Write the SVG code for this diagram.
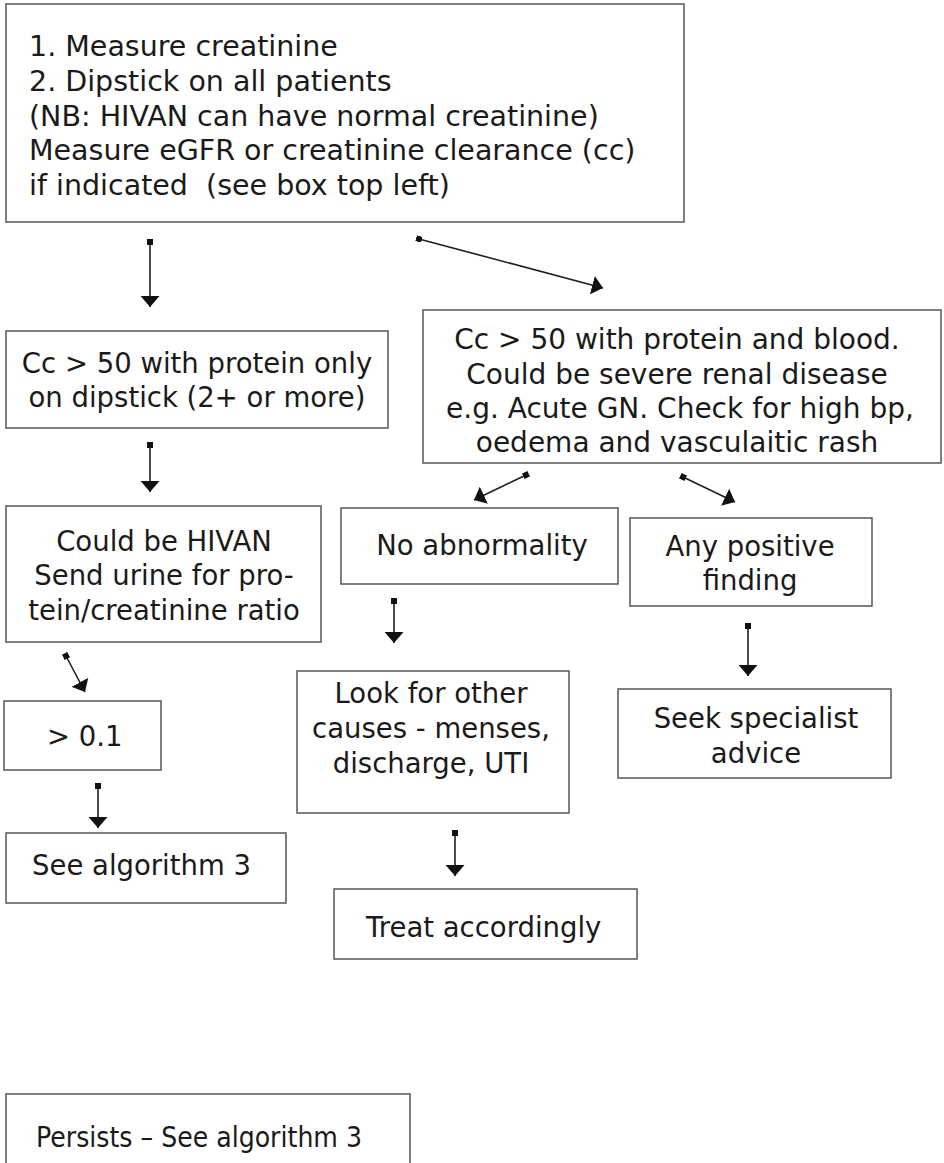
<svg xmlns="http://www.w3.org/2000/svg" width="944" height="1163" viewBox="0 0 944 1163">
<style>
.box { fill: #ffffff; stroke: #555555; stroke-width: 1.5; }
.t { font-family: "DejaVu Sans", "Liberation Sans", sans-serif; font-size: 27.5px; fill: #1a1a1a; }
.big { font-size: 28.5px; }
.mid { font-size: 28px; }
.c { text-anchor: middle; }
.conn line { stroke: #1e1e1e; stroke-width: 1.6; marker-start: url(#sq); marker-end: url(#ah); }
</style>
<defs>
<marker id="ah" viewBox="0 0 11 19" refX="11" refY="9.5" markerWidth="11" markerHeight="19" orient="auto" markerUnits="userSpaceOnUse">
<path d="M0,0 L11,9.5 L0,19 z" fill="#111111"/>
</marker>
<marker id="sq" viewBox="0 0 6 6" refX="3" refY="3" markerWidth="6" markerHeight="6" orient="auto" markerUnits="userSpaceOnUse">
<rect width="6" height="6" fill="#111111"/>
</marker>
</defs>
<rect width="944" height="1163" fill="#ffffff"/>

<g id="n-start">
<rect class="box" x="6" y="4" width="678" height="218"/>
<text class="t big" x="29" y="56">1. Measure creatinine</text>
<text class="t big" x="29" y="91">2. Dipstick on all patients</text>
<text class="t big" x="29" y="126">(NB: HIVAN can have normal creatinine)</text>
<text class="t big" x="29" y="160">Measure eGFR or creatinine clearance (cc)</text>
<text class="t big" x="29" y="195" xml:space="preserve">if indicated  (see box top left)</text>
</g>

<g id="n-protein-only">
<rect class="box" x="6" y="331" width="382" height="97"/>
<text class="t c" x="197" y="373">Cc &gt; 50 with protein only</text>
<text class="t c" x="197" y="407">on dipstick (2+ or more)</text>
</g>

<g id="n-protein-blood">
<rect class="box" x="423" y="310" width="518" height="153"/>
<text class="t mid c" x="677" y="349">Cc &gt; 50 with protein and blood.</text>
<text class="t mid c" x="677" y="383.5">Could be severe renal disease</text>
<text class="t mid c" x="680" y="418">e.g. Acute GN. Check for high bp,</text>
<text class="t mid c" x="677" y="452">oedema and vasculaitic rash</text>
</g>

<g id="n-hivan">
<rect class="box" x="6" y="506" width="315" height="136"/>
<text class="t c" x="164" y="551">Could be HIVAN</text>
<text class="t c" x="164" y="585">Send urine for pro-</text>
<text class="t c" x="164" y="620">tein/creatinine ratio</text>
</g>

<g id="n-no-abnormality">
<rect class="box" x="341" y="508" width="277" height="76"/>
<text class="t c" x="482" y="555">No abnormality</text>
</g>

<g id="n-positive">
<rect class="box" x="630" y="518" width="242" height="88"/>
<text class="t c" x="750" y="556">Any positive</text>
<text class="t c" x="750" y="590">finding</text>
</g>

<g id="n-ratio">
<rect class="box" x="4" y="701" width="157" height="69"/>
<text class="t" x="47" y="746">&gt; 0.1</text>
</g>

<g id="n-other-causes">
<rect class="box" x="297" y="671" width="272" height="142"/>
<text class="t c" x="431" y="703">Look for other</text>
<text class="t c" x="431" y="738">causes - menses,</text>
<text class="t c" x="431" y="773">discharge, UTI</text>
</g>

<g id="n-specialist">
<rect class="box" x="618" y="689" width="273" height="89"/>
<text class="t c" x="756" y="728">Seek specialist</text>
<text class="t c" x="756" y="763">advice</text>
</g>

<g id="n-algorithm3">
<rect class="box" x="6" y="833" width="280" height="70"/>
<text class="t" x="32" y="875">See algorithm 3</text>
</g>

<g id="n-treat">
<rect class="box" x="334" y="889" width="303" height="70"/>
<text class="t" x="366" y="937">Treat accordingly</text>
</g>

<g id="n-persists">
<rect class="box" x="6" y="1094" width="404" height="120"/>
<text class="t" x="36" y="1147" textLength="326" lengthAdjust="spacingAndGlyphs">Persists – See algorithm 3</text>
</g>

<g id="connectors" class="conn">
<line x1="150" y1="242" x2="150" y2="307"/>
<line x1="419" y1="239" x2="603" y2="288"/>
<line x1="150" y1="445" x2="150" y2="492"/>
<line x1="526" y1="475" x2="474" y2="500"/>
<line x1="683" y1="477" x2="735" y2="502"/>
<line x1="66" y1="656" x2="85" y2="692"/>
<line x1="394" y1="601" x2="394" y2="643"/>
<line x1="748" y1="626" x2="748" y2="676"/>
<line x1="98" y1="786" x2="98" y2="828"/>
<line x1="455" y1="833" x2="455" y2="876"/>
</g>
</svg>
